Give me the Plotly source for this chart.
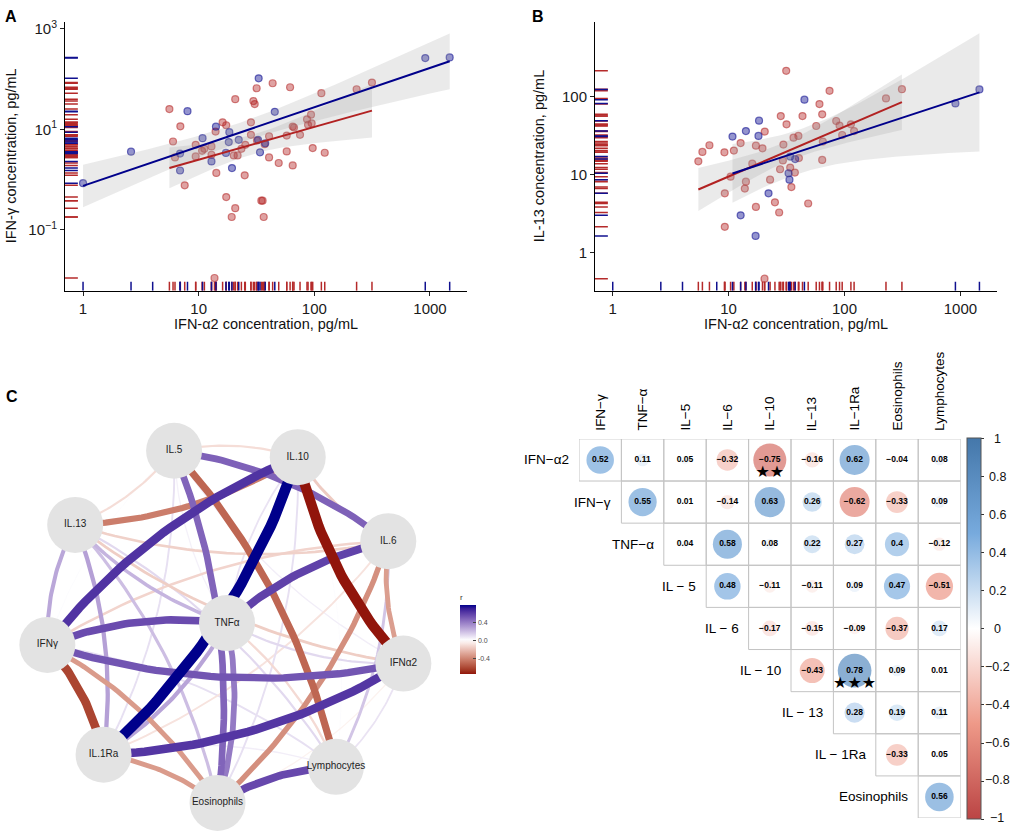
import math
import numpy as np
import plotly.graph_objects as go

W, H = 1012, 831

# ---------------- Panel A data: IFN-gamma vs IFN-alpha2 ----------------
a_red_x = [5.58, 6.0, 6.24, 6.94, 7.57, 9.42, 9.42, 10.7, 11.2, 12.9, 12.9, 14.0, 14.2, 16.1, 17.3,
           17.3, 19.3, 20.7, 20.7, 20.1, 21.7, 23.4, 25.0, 25.3, 28.3, 28.3, 29.7, 30.5, 31.7, 31.9,
           34.8, 35.7, 36.5, 37.2, 40.6, 40.6, 43.6, 49.2, 57.7, 57.7, 61.7, 65.0, 65.0, 66.7, 75.2,
           86.4, 88.2, 93.6, 94.8, 96.8, 115, 123, 232, 315, 13.7]
a_red_y = [25.4, 5.74, 2.77, 11.5, 0.77, 4.93, 2.9, 3.75, 4.11, 3.13, 4.57, 9.04, 1.36, 13.8, 12.1,
           0.45, 0.18, 0.27, 40, 3.03, 3.03, 4.11, 1.22, 4.93, 13.8, 7.78, 36.6, 31.9, 66, 6.0,
           0.38, 0.38, 0.18, 5.08, 7.3, 2.77, 83, 2.14, 7.53, 3.64, 69, 11.4, 1.92, 10.9, 7.78,
           15.9, 12.3, 19.6, 13.2, 4.24, 52.6, 3.43, 63, 85.5, 0.011]
a_blue_x = [1.0, 2.6, 8.0, 6.9, 6.9, 10.8, 12.9, 14.1, 18.4, 18.2, 17.2, 19.4, 22.2, 33.0, 32.6,
            33.9, 37.6, 45.5, 910, 1480]
a_blue_y = [0.85, 3.6, 23, 1.52, 3.3, 6.7, 2.3, 11.3, 8.8, 5.6, 3.4, 1.7, 6.2, 104, 6.2,
            3.5, 5.3, 22.4, 263, 271]
a_blue_x_only = [4.0]

# ---------------- Panel B data: IL-13 vs IFN-alpha2 ----------------
b_red_x = [31.4, 74.3, 60.8, 64.2, 28.2, 43.4, 31.6, 57, 84.8, 90.6, 113.6, 121, 95.5, 65, 64.2,
           20.5, 12.7, 6.83, 5.94, 5.48, 9.2, 11.1, 17.2, 19.6, 29.7, 36.3, 40, 16, 29.4, 40.4,
           27.8, 34, 37.3, 10.4, 14.1, 13.8, 22.8, 34.8, 9.27, 25.1, 17.2, 48.6, 27.3, 9.27, 20.4,
           228, 313]
b_red_y = [215, 119, 80.4, 59.3, 56.4, 56.4, 44.2, 42, 48.7, 42.5, 44.2, 36.2, 32.2, 26.5, 15.4,
           35.6, 25.4, 23.8, 19.5, 14.8, 19.3, 20.3, 23.5, 21.7, 24.3, 29.8, 31.3, 13.8, 15.2, 16.3,
           11.7, 12.3, 10.6, 9.4, 8.1, 6.6, 8.6, 6.9, 5.75, 4.4, 3.84, 4.25, 3.26, 2.13, 0.46,
           95, 125]
b_blue_x = [45.1, 18.3, 14.1, 10.8, 18.1, 37.5, 32.9, 33.5, 22.1, 12.7, 17.1, 34.0, 906, 1460]
b_blue_y = [91.5, 49.2, 36.2, 30.7, 31.3, 15.8, 10.4, 8.6, 5.75, 3.0, 1.63, 17.0, 82, 124]
b_blue_x_only = [1.0, 2.6, 4.0, 7.9]

# ---------------- Panel C data: correlations ----------------
variables = ["IFN-α2", "IFN-γ", "TNF-α", "IL-5", "IL-6", "IL-10", "IL-13", "IL-1Ra",
             "Eosinophils", "Lymphocytes"]
row_labels = ["IFN−α2", "IFN−γ", "TNF−α", "IL − 5", "IL − 6", "IL − 10", "IL − 13", "IL − 1Ra",
              "Eosinophils"]
col_labels = ["IFN−γ", "TNF−α", "IL−5", "IL−6", "IL−10", "IL−13", "IL−1Ra", "Eosinophils",
              "Lymphocytes"]
net_labels = ["IFNα2", "IFNγ", "TNFα", "IL.5", "IL.6", "IL.10", "IL.13", "IL.1Ra",
              "Eosinophils", "Lymphocytes"]
cor_upper = [
    [0.52, 0.11, 0.05, -0.32, -0.75, -0.16, 0.62, -0.04, 0.08],
    [0.55, 0.01, -0.14, 0.63, 0.26, -0.62, -0.33, 0.09],
    [0.04, 0.58, 0.08, 0.22, 0.27, 0.4, -0.12],
    [0.48, -0.11, -0.11, 0.09, 0.47, -0.51],
    [-0.17, -0.15, -0.09, -0.37, 0.17],
    [-0.43, 0.78, 0.09, 0.01],
    [0.28, 0.19, 0.11],
    [-0.33, 0.05],
    [0.56],
]
sig_first = ["IFN-α2", "IL-10"]
sig_second = ["IL-10", "IL-1Ra"]
sig_stars = ["★★", "★★★"]
cbar_ticks = [1, 0.8, 0.6, 0.4, 0.2, 0, -0.2, -0.4, -0.6, -0.8, -1]
net_center = "TNF-α"
net_ring = ["IL-6", "IL-10", "IL-5", "IL-13", "IFN-γ", "IL-1Ra", "Eosinophils", "Lymphocytes", "IFN-α2"]

# ---------------- styles ----------------
FONT = "Liberation Sans, Arial, sans-serif"
RED = "178,34,34"
BLUE = "0,0,139"

fig = go.Figure()


def tq975(df):
    z = 1.959964
    g1 = (z ** 3 + z) / 4
    g2 = (5 * z ** 5 + 16 * z ** 3 + 3 * z) / 96
    g3 = (3 * z ** 7 + 19 * z ** 5 + 17 * z ** 3 - 15 * z) / 384
    return z + g1 / df + g2 / df ** 2 + g3 / df ** 3


def fit_band(xs, ys, n=80):
    lx = np.log10(np.array(xs, float))
    ly = np.log10(np.array(ys, float))
    b, a = np.polyfit(lx, ly, 1)
    N = len(lx)
    resid = ly - (a + b * lx)
    s = math.sqrt(np.sum(resid ** 2) / (N - 2))
    xm = lx.mean()
    sxx = np.sum((lx - xm) ** 2)
    xg = np.linspace(lx.min(), lx.max(), n)
    yg = a + b * xg
    se = s * np.sqrt(1.0 / N + (xg - xm) ** 2 / sxx)
    t = tq975(N - 2)
    return 10 ** xg, 10 ** yg, 10 ** (yg - t * se), 10 ** (yg + t * se)


shapes = []
annotations = []


def scatter_panel(xa, ya, red_x, red_y, blue_x, blue_y, blue_x_only):
    for xs, ys, col in [(red_x, red_y, RED), (blue_x, blue_y, BLUE)]:
        fig.add_trace(go.Scatter(
            x=xs, y=ys, mode="markers", xaxis=xa, yaxis=ya, hoverinfo="skip",
            marker=dict(size=7, color=f"rgba({col},0.42)",
                        line=dict(color=f"rgba({col},0.55)", width=1.2))))
    fits = []
    for xs, ys, col in [(red_x, red_y, RED), (blue_x, blue_y, BLUE)]:
        gx, gy, lo, hi = fit_band(xs, ys)
        fits.append((gx, gy, col))
        fig.add_trace(go.Scatter(
            x=np.concatenate([gx, gx[::-1]]), y=np.concatenate([lo, hi[::-1]]),
            mode="lines", fill="toself", fillcolor="rgba(160,160,160,0.22)",
            line=dict(width=0), xaxis=xa, yaxis=ya, hoverinfo="skip"))
    for gx, gy, col in fits:
        fig.add_trace(go.Scatter(x=gx, y=gy, mode="lines", xaxis=xa, yaxis=ya,
                                 line=dict(color=f"rgb({col})", width=2), hoverinfo="skip"))
    rug_col = {RED: "#B52A2A", BLUE: "#10108F"}
    for xs, ys, col, extra in [(red_x, red_y, RED, []), (blue_x, blue_y, BLUE, blue_x_only)]:
        for v in list(xs) + list(extra):
            shapes.append(dict(type="line", xref=xa, yref=f"{ya} domain", x0=v, x1=v, y0=0, y1=0.033,
                               line=dict(color=rug_col[col], width=1.5)))
        for v in ys:
            shapes.append(dict(type="line", xref=f"{xa} domain", yref=ya, x0=0, x1=0.032, y0=v, y1=v,
                               line=dict(color=rug_col[col], width=1.5)))


scatter_panel("x", "y", a_red_x, a_red_y, a_blue_x, a_blue_y, a_blue_x_only)
scatter_panel("x2", "y2", b_red_x, b_red_y, b_blue_x, b_blue_y, b_blue_x_only)

# ---------------- network (panel C left) ----------------
def srgb2lab(hexc):
    c = [int(hexc[i:i + 2], 16) / 255 for i in (1, 3, 5)]
    lin = [x / 12.92 if x <= 0.04045 else ((x + 0.055) / 1.055) ** 2.4 for x in c]
    X = (0.4124 * lin[0] + 0.3576 * lin[1] + 0.1805 * lin[2]) / 0.95047
    Y = (0.2126 * lin[0] + 0.7152 * lin[1] + 0.0722 * lin[2])
    Z = (0.0193 * lin[0] + 0.1192 * lin[1] + 0.9505 * lin[2]) / 1.08883
    f = lambda t: t ** (1 / 3) if t > 0.008856 else 7.787 * t + 16 / 116
    fx, fy, fz = f(X), f(Y), f(Z)
    return (116 * fy - 16, 500 * (fx - fy), 200 * (fy - fz))


def lab2rgb(L, a, b):
    fy = (L + 16) / 116
    fx = fy + a / 500
    fz = fy - b / 200
    finv = lambda t: t ** 3 if t ** 3 > 0.008856 else (t - 16 / 116) / 7.787
    X, Y, Z = finv(fx) * 0.95047, finv(fy), finv(fz) * 1.08883
    r = 3.2406 * X - 1.5372 * Y - 0.4986 * Z
    g = -0.9689 * X + 1.8758 * Y + 0.0415 * Z
    bb = 0.0557 * X - 0.2040 * Y + 1.0570 * Z
    out = []
    for v in (r, g, bb):
        v = 12.92 * v if v <= 0.0031308 else 1.055 * v ** (1 / 2.4) - 0.055
        out.append(int(round(min(max(v, 0), 1) * 255)))
    return "rgb(%d,%d,%d)" % tuple(out)


LOW, MID, HIGH = srgb2lab("#8B0000"), srgb2lab("#FFFFFF"), srgb2lab("#00008B")
all_r = [r for row in cor_upper for r in row]
rmax = max(abs(r) for r in all_r)


def edge_color(r):
    t = max(-1.0, min(1.0, r / rmax))
    end = HIGH if t >= 0 else LOW
    t = abs(t)
    return lab2rgb(*[MID[k] + (end[k] - MID[k]) * t for k in range(3)])


cx, cy, RAD = 227.0, 209.0, 181.0
pos = {net_center: (cx, cy)}
for k, name in enumerate(net_ring):
    ang = math.radians(27 + 40 * k)
    pos[name] = (cx + RAD * math.cos(ang), cy + RAD * math.sin(ang))

edges = []
for i, row in enumerate(cor_upper):
    for k, r in enumerate(row):
        edges.append((variables[i], variables[i + 1 + k], r))
edges.sort(key=lambda e: abs(e[2]))
tt = np.linspace(0, 1, 40)
for a, b, r in edges:
    p0 = np.array(pos[a]); p2 = np.array(pos[b])
    d = p2 - p0
    L = np.hypot(*d)
    perp = np.array([-d[1], d[0]]) / L
    ctrl = (p0 + p2) / 2 + perp * 2 * 0.065 * L
    pts = ((1 - tt) ** 2)[:, None] * p0 + (2 * (1 - tt) * tt)[:, None] * ctrl + (tt ** 2)[:, None] * p2
    fig.add_trace(go.Scatter(x=pts[:, 0], y=pts[:, 1], mode="lines", xaxis="x3", yaxis="y3",
                             hoverinfo="skip",
                             line=dict(color=edge_color(r), width=0.8 + 12.5 * abs(r))))

cmin_n, cmax_n = min(all_r), max(all_r)
net_scale = [[float(p), edge_color(cmin_n + p * (cmax_n - cmin_n))] for p in np.linspace(0, 1, 21)]
fig.add_trace(go.Scatter(
    x=[cx, cx], y=[cy, cy], mode="markers", xaxis="x3", yaxis="y3", hoverinfo="skip",
    marker=dict(size=2, color=[cmin_n, cmax_n], cmin=cmin_n, cmax=cmax_n, colorscale=net_scale,
                showscale=True,
                colorbar=dict(x=460 / W, xanchor="left", y=1 - 631.5 / H, yanchor="middle",
                              thickness=16, thicknessmode="pixels", len=83, lenmode="pixels",
                              xpad=0, ypad=0, outlinewidth=0,
                              title=dict(text="r", side="top", font=dict(size=8, color="#333", family=FONT)),
                              tickvals=[-0.4, 0.0, 0.4], ticktext=["-0.4", "0.0", "0.4"],
                              ticks="inside", ticklen=3, tickcolor="#444",
                              tickfont=dict(size=7, color="#4d4d4d", family=FONT)))))
node_names = [net_center] + net_ring
fig.add_trace(go.Scatter(
    x=[pos[n][0] for n in node_names], y=[pos[n][1] for n in node_names],
    mode="markers+text", xaxis="x3", yaxis="y3", hoverinfo="skip",
    text=[net_labels[variables.index(n)] for n in node_names], textposition="middle center",
    textfont=dict(size=10, color="#222", family=FONT),
    marker=dict(size=56, color="#E3E3E3", line=dict(width=0))))

# ---------------- correlation matrix (panel C right) ----------------
cor_scale = [[0, "#BB4444"], [0.25, "#EE9988"], [0.5, "#FFFFFF"], [0.75, "#77AADD"], [1, "#4477AA"]]
GX0, GY0, CELL, CELLY = 579.0, 437.0, 42.4, 42.33
cxs, cys, cvals, csizes, ctext = [], [], [], [], []


def fmt(v):
    s = f"{v:.2f}".rstrip("0").rstrip(".")
    return s.replace("-", "−")


for i, row in enumerate(cor_upper):
    for k, r in enumerate(row):
        j = i + k
        cxs.append(j + 0.5); cys.append(i + 0.5); cvals.append(r)
        csizes.append(0.9 * math.sqrt(abs(r)) * CELL)
        ctext.append(f"<b>{fmt(r)}</b>")
        shapes.append(dict(type="rect", xref="x4", yref="y4", x0=j, x1=j + 1, y0=i, y1=i + 1,
                           line=dict(color="#C4C4C4", width=1), layer="below"))

CB_TOP, CB_LEN = 437.3, 381.0
fig.add_trace(go.Scatter(
    x=cxs, y=cys, mode="markers", xaxis="x4", yaxis="y4", hoverinfo="skip",
    marker=dict(size=csizes, color=cvals, cmin=-1, cmax=1, colorscale=cor_scale, line=dict(width=0),
                showscale=True,
                colorbar=dict(x=967 / W, xanchor="left", y=1 - (CB_TOP + CB_LEN / 2) / H,
                              yanchor="middle",
                              thickness=14, thicknessmode="pixels", len=CB_LEN, lenmode="pixels",
                              xpad=0, ypad=0, outlinewidth=1, outlinecolor="#555",
                              tickvals=cbar_ticks, showticklabels=False,
                              ticks="outside", ticklen=3, tickcolor="#333"))))
fig.add_trace(go.Scatter(
    x=cxs, y=cys, mode="text", text=ctext, xaxis="x4", yaxis="y4", hoverinfo="skip",
    textposition="middle center", textfont=dict(size=8.5, color="#000", family=FONT)))
sx = [variables.index(b) - 1 + 0.5 for b in sig_second]
sy = [variables.index(a) + 0.5 + 0.32 for a in sig_first]
fig.add_trace(go.Scatter(
    x=sx, y=sy, mode="text", text=sig_stars, xaxis="x4", yaxis="y4", hoverinfo="skip",
    textposition="middle center", textfont=dict(size=16, color="#000", family="DejaVu Sans")))


def pann(xp, yp, text, size, angle=0, xanchor="center", yanchor="middle", color="#000", bold=False):
    annotations.append(dict(x=xp / W, y=1 - yp / H, xref="paper", yref="paper",
                            text=f"<b>{text}</b>" if bold else text, textangle=angle,
                            showarrow=False, xanchor=xanchor, yanchor=yanchor,
                            font=dict(size=size, color=color, family=FONT)))


for j, lab in enumerate(col_labels):
    pann(GX0 + (j + 0.5) * CELL, GY0 - 6, lab, 13.5, angle=-90, yanchor="bottom")
for i, lab in enumerate(row_labels):
    pann(GX0 + i * CELL - 8, GY0 + (i + 0.5) * CELLY, lab, 13.5, xanchor="right")
for v in cbar_ticks:
    pann(997, CB_TOP + (1 - v) / 2 * CB_LEN, fmt(v) if v != 0 else "0", 12.5, color="#111")

# ---------------- titles / panel letters ----------------
pann(11, 13, "A", 16, bold=True)
pann(538, 13, "B", 16, bold=True)
pann(12, 394, "C", 16, bold=True)
pann(266, 322, "IFN-α2 concentration, pg/mL", 14.5, color="#111")
pann(796, 322, "IFN-α2 concentration, pg/mL", 14.5, color="#111")
pann(11, 153, "IFN-γ concentration, pg/mL", 14.5, angle=-90, color="#111")
pann(539, 153, "IL-13 concentration, pg/mL", 14.5, angle=-90, color="#111")

axis_common = dict(type="log", showline=True, linecolor="#000", linewidth=1, ticks="outside",
                   ticklen=4, tickcolor="#222", showgrid=False, zeroline=False,
                   tickfont=dict(size=15, color="#1a1a1a", family=FONT))
ydom = [1 - 288 / H, 1 - 18 / H]
fig.update_layout(
    width=W, height=H, margin=dict(l=0, r=0, t=0, b=0), showlegend=False,
    paper_bgcolor="white", plot_bgcolor="rgba(0,0,0,0)",
    xaxis=dict(axis_common, domain=[65 / W, 467 / W], range=[-0.156, 3.32],
               tickvals=[1, 10, 100, 1000], ticktext=["1", "10", "100", "1000"], anchor="y"),
    yaxis=dict(axis_common, domain=ydom, range=[-2.21, 3.14], tickvals=[0.1, 10, 1000],
               ticktext=["10<sup>−1</sup>", "10<sup>1</sup>", "10<sup>3</sup>"], anchor="x"),
    xaxis2=dict(axis_common, domain=[595 / W, 997 / W], range=[-0.153, 3.316],
                tickvals=[1, 10, 100, 1000], ticktext=["1", "10", "100", "1000"], anchor="y2"),
    yaxis2=dict(axis_common, domain=ydom, range=[-0.49, 2.96], tickvals=[1, 10, 100],
                ticktext=["1", "10", "100"], anchor="x2"),
    xaxis3=dict(domain=[0, 445 / W], range=[0, 445], visible=False, anchor="y3"),
    yaxis3=dict(domain=[0, 432 / H], range=[0, 432], visible=False, anchor="x3"),
    xaxis4=dict(domain=[GX0 / W, (GX0 + 9 * CELL) / W], range=[0, 9], visible=False, anchor="y4"),
    yaxis4=dict(domain=[1 - (GY0 + 9 * CELLY) / H, 1 - GY0 / H], range=[9, 0], visible=False,
                anchor="x4"),
    shapes=shapes, annotations=annotations,
)

fig.write_html("out.html", config={"displayModeBar": False},
               post_script="document.body.style.margin='0px';document.body.style.overflow='hidden';")
